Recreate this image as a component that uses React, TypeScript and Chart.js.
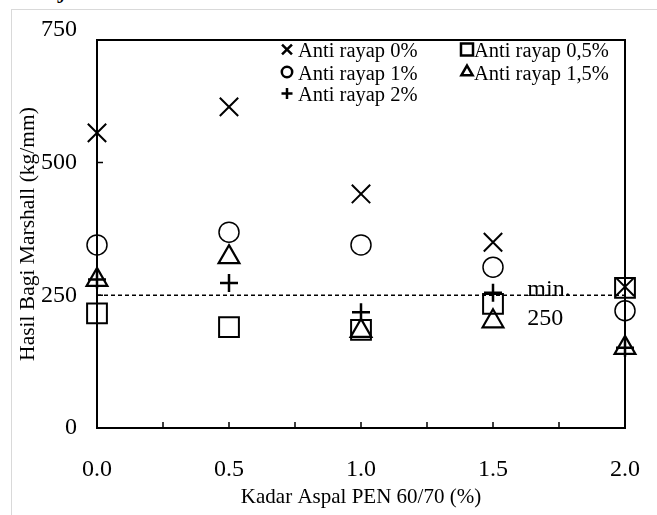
import React, { useEffect, useRef } from 'react';
import { Chart, registerables } from 'chart.js';
import { drawPoint } from 'chart.js/helpers';

Chart.register(...registerables);

// ---- data ----
const xValues = [0, 0.5, 1.0, 1.5, 2.0];
const seriesLabels = ['Anti rayap 0%', 'Anti rayap 0,5%', 'Anti rayap 1%', 'Anti rayap 1,5%', 'Anti rayap 2%'];
const antiRayap0 = [556, 605, 441, 350, 266];
const antiRayap05 = [216, 190, 185, 234, 264];
const antiRayap1 = [345, 369, 345, 303, 221];
const antiRayap15 = [279, 322, 183, 201, 151];
const antiRayap2 = [280, 273, 218, 255, 151];
const minLineX = [0, 2];
const minLineY = [250, 250];
const yTicks = [0, 250, 500, 750];
const xTicks = [0, 0.5, 1.0, 1.5, 2.0];
const xMinorTicks = [0.25, 0.75, 1.25, 1.75];
const minLabelLines = ['min.', '250'];
const xTitle = 'Kadar Aspal PEN 60/70 (%)';
const yTitle = 'Hasil Bagi Marshall (kg/mm)';

const seriesValues = [antiRayap0, antiRayap05, antiRayap1, antiRayap15, antiRayap2];
const pointStyles = ['crossRot', 'rect', 'circle', 'triangle', 'cross'];
const pointRadii = [13, 14, 10, 12, 9];
const pointWidths = [2, 2, 1.5, 2.2, 2.5];
const legendRadii = [7, 8.5, 5.2, 6.5, 5.5];

const FONT = '"Liberation Serif", "Times New Roman", serif';

const decorPlugin = {
  id: 'decor',
  afterDatasetsDraw(chart: any) {
    const { ctx, chartArea: a, scales } = chart;
    const x = scales.x;
    const y = scales.y;
    ctx.save();
    // frame
    ctx.strokeStyle = '#000';
    ctx.lineWidth = 2;
    ctx.strokeRect(a.left, a.top, a.right - a.left, a.bottom - a.top);
    // inside tick marks
    ctx.lineWidth = 1.5;
    ctx.beginPath();
    xTicks.concat(xMinorTicks).forEach((v) => {
      const px = x.getPixelForValue(v);
      ctx.moveTo(px, a.bottom);
      ctx.lineTo(px, a.bottom - 6);
    });
    yTicks.forEach((v) => {
      const py = y.getPixelForValue(v);
      if (py > a.top + 2 && py < a.bottom - 2) {
        ctx.moveTo(a.left, py);
        ctx.lineTo(a.left + 6, py);
      }
    });
    ctx.stroke();

    // min. 250 label
    ctx.fillStyle = '#000';
    ctx.font = '24px ' + FONT;
    ctx.textAlign = 'left';
    ctx.textBaseline = 'alphabetic';
    const lx = x.getPixelForValue(1.63);
    const ly = y.getPixelForValue(250);
    ctx.fillText(minLabelLines[0], lx, ly + 1);
    ctx.fillText(minLabelLines[1], lx, ly + 30);

    // legend (two columns inside plot area)
    const items = [
      { mx: 287, tx: 298, by: 57 },
      { mx: 467, tx: 474, by: 57 },
      { mx: 287, tx: 298, by: 79.5 },
      { mx: 467, tx: 474, by: 79.5 },
      { mx: 287, tx: 298, by: 101 },
    ];
    ctx.font = '20.5px ' + FONT;
    items.forEach((it, i) => {
      ctx.save();
      ctx.strokeStyle = '#000';
      ctx.fillStyle = 'rgba(0,0,0,0)';
      ctx.lineWidth = 2.5;
      drawPoint(ctx, { pointStyle: pointStyles[i], radius: legendRadii[i], rotation: 0, borderWidth: 2.5 } as any, it.mx, it.by - 7.5);
      ctx.restore();
      ctx.fillStyle = '#000';
      ctx.fillText(seriesLabels[i], it.tx, it.by);
    });
    ctx.restore();
  },
};

export default function App() {
  const canvasRef = useRef<HTMLCanvasElement | null>(null);

  useEffect(() => {
    if (!canvasRef.current) return;
    const datasets: any[] = seriesValues.map((vals, i) => ({
      label: seriesLabels[i],
      data: xValues.map((xv, j) => ({ x: xv, y: vals[j] })),
      pointStyle: pointStyles[i],
      pointRadius: pointRadii[i],
      pointHoverRadius: pointRadii[i],
      pointBorderWidth: pointWidths[i],
      borderColor: '#000',
      backgroundColor: 'rgba(0,0,0,0)',
      showLine: false,
      clip: false,
    }));
    datasets.push({
      label: 'min',
      data: minLineX.map((xv, j) => ({ x: xv, y: minLineY[j] })),
      showLine: true,
      borderColor: '#000',
      borderWidth: 1.5,
      borderDash: [4, 3],
      pointRadius: 0,
      clip: false,
    });

    const chart = new Chart(canvasRef.current, {
      type: 'scatter',
      data: { datasets },
      options: {
        animation: false,
        responsive: false,
        events: [],
        layout: { padding: { left: 0, top: 40, right: 32, bottom: 0 } },
        plugins: {
          legend: { display: false },
          tooltip: { enabled: false },
        },
        scales: {
          x: {
            type: 'linear',
            min: 0,
            max: 2,
            afterBuildTicks: (axis: any) => {
              axis.ticks = xTicks.map((v) => ({ value: v }));
            },
            afterFit: (axis: any) => {
              axis.height = 87;
              axis.paddingLeft = 0;
              axis.paddingRight = 0;
            },
            grid: { display: false, drawTicks: false },
            border: { display: false },
            ticks: {
              autoSkip: false,
              maxRotation: 0,
              padding: 27,
              color: '#000',
              font: { family: FONT, size: 24 },
              callback: (v: any) => Number(v).toFixed(1),
            },
            title: {
              display: true,
              text: xTitle,
              color: '#000',
              font: { family: FONT, size: 21 },
              padding: { top: 0, bottom: 5 },
            },
          },
          y: {
            type: 'linear',
            min: 0,
            max: 731,
            afterBuildTicks: (axis: any) => {
              axis.ticks = yTicks.map((v) => ({ value: v }));
            },
            afterFit: (axis: any) => {
              axis.width = 97;
              axis.paddingTop = 0;
              axis.paddingBottom = 0;
            },
            grid: { display: false, drawTicks: false },
            border: { display: false },
            ticks: {
              autoSkip: false,
              padding: 20,
              color: '#000',
              font: { family: FONT, size: 24 },
            },
            title: {
              display: true,
              text: yTitle,
              color: '#000',
              font: { family: FONT, size: 21.5 },
              padding: { top: 15, bottom: 0 },
            },
          },
        },
      },
      plugins: [decorPlugin],
    } as any);
    return () => chart.destroy();
  }, []);

  return (
    <div style={{ position: 'fixed', left: 0, top: 0, width: 657, height: 515, background: '#fff', overflow: 'hidden' }}>
      <div
        style={{
          position: 'absolute',
          left: 10,
          top: -26,
          fontFamily: FONT,
          fontSize: 28,
          lineHeight: '28px',
          whiteSpace: 'nowrap',
          color: '#000',
        }}
      >
        menjadi 265.95.
      </div>
      <div
        style={{
          position: 'absolute',
          left: 11,
          top: 9,
          width: 700,
          height: 600,
          border: '1px solid #d9d9d9',
          boxSizing: 'border-box',
        }}
      />
      <canvas ref={canvasRef} width={657} height={515} style={{ position: 'absolute', left: 0, top: 0 }} />
    </div>
  );
}
